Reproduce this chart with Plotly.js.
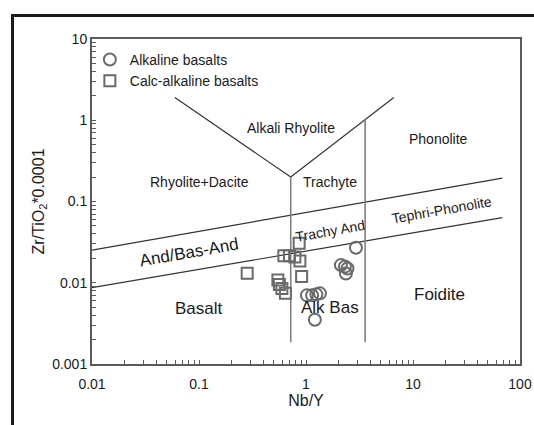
<!DOCTYPE html>
<html><head><meta charset="utf-8">
<script src="https://cdn.plot.ly/plotly-3.0.1.min.js"></script>
<style>
html,body{margin:0;padding:0;background:#fff;}
#chart{position:absolute;left:0;top:0;width:534px;height:425px;}
#frame{position:absolute;left:11px;top:14px;width:600px;height:600px;border-left:3px solid #1a1a1a;border-top:3px solid #1a1a1a;pointer-events:none;}
</style>
</head><body>
<div id="chart"></div><div id="frame"></div>
<script>
// Data points
const alkX = [2.93, 2.12, 2.31, 2.44, 2.36, 1.02, 1.14, 1.25, 1.35, 1.21];
const alkY = [0.0270, 0.0165, 0.0158, 0.0150, 0.0130, 0.0070, 0.0070, 0.0072, 0.0074, 0.0035];
const calcX = [0.282, 0.621, 0.700, 0.787, 0.863, 0.877, 0.910, 0.546, 0.564, 0.595, 0.642];
const calcY = [0.0131, 0.0215, 0.0215, 0.0208, 0.0306, 0.0185, 0.0119, 0.0108, 0.0095, 0.0085, 0.0074];

// Field boundaries
const upperX = [0.01, 68.3];   const upperY = [0.0252, 0.194];
const lowerX = [0.01, 68.3];   const lowerY = [0.0087, 0.0634];
const vX = [0.0595, 0.72, 6.62]; const vY = [1.9, 0.2, 1.9];
const split1X = [0.72, 0.72];  const split1Y = [0.2, 0.00185];
const split2X = [3.57, 3.57];  const split2Y = [1.02, 0.00185];

// Field labels
const regionNames = ['Alkali Rhyolite','Phonolite','Rhyolite+Dacite','Trachyte','Tephri-Phonolite','Trachy And','And/Bas-And','Basalt','Alk Bas','Foidite'];
const regionX = [0.723, 17.4, 0.100, 1.68, 18.3, 1.66, 0.0804, 0.100, 1.66, 17.7];
const regionY = [0.796, 0.59, 0.175, 0.175, 0.0789, 0.0439, 0.0237, 0.0048, 0.0050, 0.0072];
const regionSize = [14,14,14,14,14,14,17,17,17,17];
const regionAngle = [0,0,0,0,-10,-10,-10,0,0,0];

// Axis ticks
const decadesX = [0.01, 0.1, 1, 10, 100];
const decadeLabelsX = ['0.01', '0.1', '1', '10', '100'];
const decadesY = [0.001, 0.01, 0.1, 1, 10];
const decadeLabelsY = ['0.001', '0.01', '0.1', '1', '10'];

function minorTicks(decades) {
  const vals = [];
  for (let i = 0; i < decades.length - 1; i++) {
    for (let m = 2; m <= 9; m++) vals.push(decades[i] * m);
  }
  return vals;
}

const FONT = 'Arial, "Liberation Sans", Helvetica, sans-serif';
const TEXT = '#1a1a1a';
const markerColor = '#6a6a6a';

function line(x, y, color, width) {
  return {x, y, type: 'scatter', mode: 'lines', showlegend: false, hoverinfo: 'skip',
          line: {color, width}};
}

const traces = [
  line(upperX, upperY, '#333', 1.2),
  line(lowerX, lowerY, '#333', 1.2),
  line(vX, vY, '#333', 1.2),
  line(split1X, split1Y, '#808080', 1.6),
  line(split2X, split2Y, '#808080', 1.6),
  {x: alkX, y: alkY, type: 'scatter', mode: 'markers', name: 'Alkaline basalts',
   marker: {symbol: 'circle-open', size: 12, color: markerColor, line: {width: 2, color: markerColor}}},
  {x: calcX, y: calcY, type: 'scatter', mode: 'markers', name: 'Calc-alkaline basalts',
   marker: {symbol: 'square-open', size: 11, color: markerColor, line: {width: 2, color: markerColor}}}
];

const annotations = regionNames.map((t, i) => ({
  text: t, x: Math.log10(regionX[i]), y: Math.log10(regionY[i]), xref: 'x', yref: 'y',
  showarrow: false, textangle: regionAngle[i],
  font: {family: FONT, size: regionSize[i], color: TEXT}
}));

const axisCommon = {
  type: 'log', showgrid: false, zeroline: false, showline: true, mirror: true,
  linecolor: '#5a5a5a', linewidth: 2, ticks: 'inside', ticklen: 4, tickwidth: 1,
  tickcolor: '#5a5a5a', tickfont: {family: FONT, size: 14, color: TEXT}
};

const layout = {
  width: 534, height: 425,
  margin: {l: 92, r: 14, t: 39, b: 61},
  paper_bgcolor: '#fff', plot_bgcolor: '#fff',
  showlegend: true,
  legend: {x: -0.005, y: 0.985, xanchor: 'left', yanchor: 'top', bgcolor: 'rgba(0,0,0,0)',
           font: {family: FONT, size: 14, color: TEXT}, tracegroupgap: 0},
  xaxis: Object.assign({}, axisCommon, {
    range: [-2, 2], tickmode: 'array', tickvals: decadesX, ticktext: decadeLabelsX, ticklabelstandoff: 6,
    minor: {tickmode: 'array', tickvals: minorTicks(decadesX), ticks: 'inside', ticklen: 4, tickwidth: 1, tickcolor: '#5a5a5a', showgrid: false},
    title: {text: 'Nb/Y', font: {family: FONT, size: 16, color: TEXT}, standoff: 1}
  }),
  yaxis: Object.assign({}, axisCommon, {
    range: [-3, 1], tickmode: 'array', tickvals: decadesY, ticktext: decadeLabelsY,
    minor: {tickmode: 'array', tickvals: minorTicks(decadesY), ticks: 'inside', ticklen: 4, tickwidth: 1, tickcolor: '#5a5a5a', showgrid: false},
    title: {text: 'Zr/TiO<sub>2</sub>*0.0001', font: {family: FONT, size: 16, color: TEXT}, standoff: 4}
  }),
  annotations
};

Plotly.newPlot('chart', traces, layout, {displayModeBar: false, staticPlot: true});
</script>
</body></html>
